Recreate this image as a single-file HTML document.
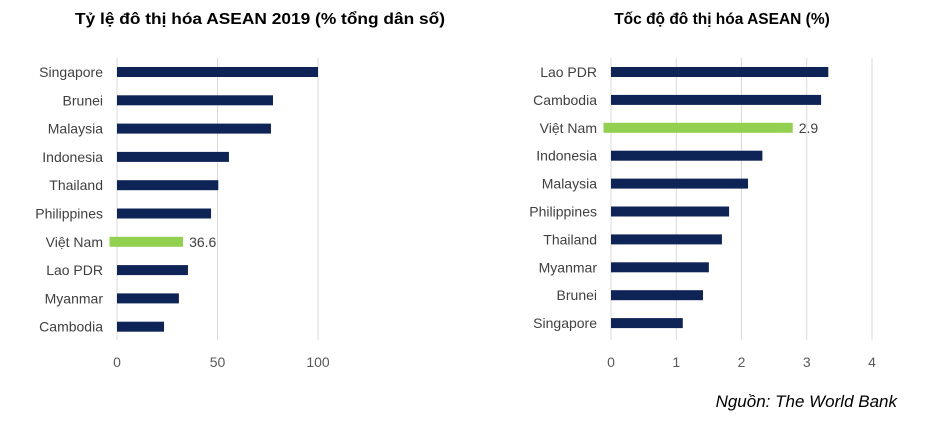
<!DOCTYPE html>
<html><head><meta charset="utf-8"><style>
body{margin:0;background:#fff;width:944px;height:440px;overflow:hidden;font-family:"Liberation Sans",sans-serif}
</style></head><body>
<svg id="c" width="944" height="440" style="font-family:'Liberation Sans',sans-serif">
<text x="260" y="24" text-anchor="middle" font-size="16" font-weight="bold" fill="#000" textLength="370" lengthAdjust="spacingAndGlyphs">Tỷ lệ đô thị hóa ASEAN 2019 (% tổng dân số)</text>
<text x="722" y="24" text-anchor="middle" font-size="15.5" font-weight="bold" fill="#000">Tốc độ đô thị hóa ASEAN (%)</text>
<text x="897" y="407" text-anchor="end" font-size="17" font-style="italic" fill="#000">Nguồn: The World Bank</text>
<g id="L"></g><g id="R"></g>
</svg>
<script>
const leftCats=["Singapore","Brunei","Malaysia","Indonesia","Thailand","Philippines","Việt Nam","Lao PDR","Myanmar","Cambodia"];
const leftVals=[100,77.6,76.6,55.7,50.4,46.8,36.6,35.3,30.8,23.4];
const leftTicks=[0,50,100];
const rightCats=["Lao PDR","Cambodia","Việt Nam","Indonesia","Malaysia","Philippines","Thailand","Myanmar","Brunei","Singapore"];
const rightVals=[3.33,3.22,2.9,2.32,2.1,1.81,1.7,1.5,1.41,1.1];
const rightTicks=[0,1,2,3,4];
const NS="http://www.w3.org/2000/svg";
function mk(g,t,a){const e=document.createElementNS(NS,t);for(const k in a)e.setAttribute(k,a[k]);g.appendChild(e);return e;}
function draw(gid,cats,vals,ticks,x0,x1,maxV,y0,step,prefix){
  const g=document.getElementById(gid);
  const sx=v=>x0+(v/maxV)*(x1-x0);
  ticks.forEach(t=>{
    const l=mk(g,"line",{x1:sx(t),x2:sx(t),y1:58,y2:340,stroke:"#d9d9d9","stroke-width":1});
    
    
    const tx=mk(g,"text",{x:sx(t),y:367,"text-anchor":"middle","font-size":14,fill:"#595959"});
    tx.textContent=t;
    
    
  });
  cats.forEach((c,i)=>{
    const y=y0+i*step;
    const hl=c==="Việt Nam";
    const t=mk(g,"text",{x:x0-14,y:y+5,"text-anchor":"end","font-size":14,fill:"#404040"});
    t.textContent=c;
    
    
    const bx=hl?x0-7.5:x0;
    const r=mk(g,"rect",{x:bx,y:y-5,width:sx(vals[i])-x0,height:10,fill:hl?"#92d050":"#0e2356"});
    
    
    if(hl){
      const v=mk(g,"text",{x:bx+sx(vals[i])-x0+6,y:y+5,"font-size":14,fill:"#404040"});
      v.textContent=vals[i].toFixed(1);
      
      
    }
  });
}
draw("L",leftCats,leftVals,leftTicks,117,318,100,72,28.3,"left");
draw("R",rightCats,rightVals,rightTicks,611,872,4,72,27.9,"right");
</script>
</body></html>
